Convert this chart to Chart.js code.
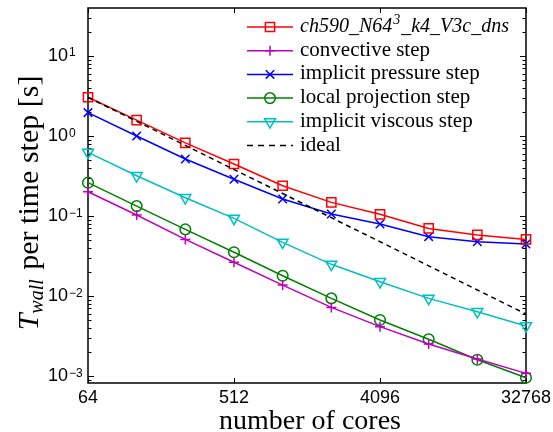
<!DOCTYPE html>
<html><head><meta charset="utf-8">
<script src="https://cdn.jsdelivr.net/npm/chart.js@4.4.1/dist/chart.umd.min.js"></script>
<style>html,body{margin:0;padding:0;background:#fff;} canvas{display:block;}</style>
</head><body>
<canvas id="c" width="553" height="432"></canvas>
<script>
// ---- data ----
const cores = [64,128,256,512,1024,2048,4096,8192,16384,32768];
const totalDns = [3.05,1.58,0.82,0.447,0.239,0.148,0.105,0.070,0.058,0.051];
const convective = [0.201,0.103,0.051,0.0264,0.0137,0.0072,0.00414,0.00251,0.00163,0.00108];
const implicitPressure = [1.96,1.0,0.516,0.288,0.163,0.106,0.0794,0.0552,0.0477,0.0447];
const localProjection = [0.261,0.133,0.068,0.0352,0.0179,0.00935,0.00501,0.00288,0.0016,0.00095];
const implicitViscous = [0.625,0.319,0.169,0.0935,0.0469,0.0249,0.0151,0.00935,0.00637,0.00422];
const ideal = [3.05,1.525,0.763,0.381,0.191,0.0953,0.0477,0.0238,0.0119,0.00596];
const xTickValues = [64,512,4096,32768];
const xTickLabels = ['64','512','4096','32768'];
const yMajorValues = [0.001,0.01,0.1,1,10];
const yTickBase = '10';
const yTickExponents = ['\u22123','\u22122','\u22121','0','1'];
const legendLabels = ['ch590_N64\u00b3_k4_V3c_dns','convective step','implicit pressure step','local projection step','implicit viscous step','ideal'];
const xTitle = 'number of cores';
const yTitleParts = ['T','wall',' per time step [s]'];

const pts = arr => cores.map((x,i)=>({x:x, y:arr[i]}));
const base = {borderWidth:1.5, pointBorderWidth:1.5, pointBackgroundColor:'rgba(0,0,0,0)', tension:0, clip:false, pointHoverRadius:0};
const datasets = [
  Object.assign({}, base, {label:legendLabels[0], data:pts(totalDns), borderColor:'#ff0000', pointBorderColor:'#ff0000', pointStyle:'rect', pointRadius:6.5}),
  Object.assign({}, base, {label:legendLabels[1], data:pts(convective), borderColor:'#bf00bf', pointBorderColor:'#bf00bf', pointStyle:'cross', pointRadius:5}),
  Object.assign({}, base, {label:legendLabels[2], data:pts(implicitPressure), borderColor:'#0000ff', pointBorderColor:'#0000ff', pointStyle:'crossRot', pointRadius:6}),
  Object.assign({}, base, {label:legendLabels[3], data:pts(localProjection), borderColor:'#008000', pointBorderColor:'#008000', pointStyle:'circle', pointRadius:5.3}),
  Object.assign({}, base, {label:legendLabels[4], data:pts(implicitViscous), borderColor:'#00bfbf', pointBorderColor:'#00bfbf', pointStyle:'triangle', pointRotation:180, pointRadius:6.3}),
  Object.assign({}, base, {label:legendLabels[5], data:pts(ideal), borderColor:'#000000', borderDash:[5,4], pointRadius:0, order:-1})
];

const SERIF = '"Liberation Serif", "Times New Roman", serif';
const SANS = '"Liberation Sans", Arial, sans-serif';

function drawRich(ctx, text, x, y, size, italic) {
  const f = (s) => (italic ? 'italic ' : '') + s + 'px ' + SERIF;
  let cx = x;
  for (const ch of text) {
    if (ch === '\u00b3') {
      ctx.font = f(Math.round(size*0.68));
      ctx.fillText('3', cx + 1, y - size*0.4);
      cx += ctx.measureText('3').width + 2;
    } else {
      ctx.font = f(size);
      ctx.fillText(ch, cx, y);
      cx += ctx.measureText(ch).width;
    }
  }
}

const decor = {
  id: 'decor',
  beforeDatasetsDraw(chart) {
    const {ctx, chartArea: a, scales: {x, y}} = chart;
    ctx.save();
    ctx.strokeStyle = '#000';
    ctx.lineWidth = 1.5;
    ctx.strokeRect(a.left, a.top, a.right - a.left, a.bottom - a.top);
    ctx.lineWidth = 1;
    ctx.beginPath();
    y.ticks.forEach(t => {
      const py = Math.round(y.getPixelForValue(t.value)) + 0.5;
      const len = t.major ? 6 : 3.5;
      ctx.moveTo(a.left, py); ctx.lineTo(a.left + len, py);
      ctx.moveTo(a.right, py); ctx.lineTo(a.right - len, py);
    });
    x.ticks.forEach(t => {
      const px = Math.round(x.getPixelForValue(t.value)) + 0.5;
      ctx.moveTo(px, a.bottom); ctx.lineTo(px, a.bottom - 5);
      ctx.moveTo(px, a.top); ctx.lineTo(px, a.top + 5);
    });
    ctx.stroke();
    ctx.restore();
  },
  afterDraw(chart) {
    const {ctx, chartArea: a, scales: {x, y}} = chart;
    ctx.save();
    ctx.fillStyle = '#000';
    // y tick labels 10^n
    yMajorValues.forEach((v, i) => {
      const py = y.getPixelForValue(v);
      ctx.font = '18px ' + SANS;
      ctx.textAlign = 'right'; ctx.textBaseline = 'middle';
      ctx.fillText(yTickBase, a.left - 20, py);
      ctx.font = '12px ' + SANS;
      ctx.textAlign = 'left'; ctx.textBaseline = 'alphabetic';
      ctx.fillText(yTickExponents[i], a.left - 19, py + 0.5);
    });
    // x title
    ctx.textAlign = 'center'; ctx.textBaseline = 'alphabetic';
    ctx.font = '28px ' + SERIF;
    ctx.fillText(xTitle, (a.left + a.right)/2 + 3, 429);
    // y title (rotated)
    ctx.save();
    ctx.translate(38, 203);
    ctx.rotate(-Math.PI/2);
    ctx.textAlign = 'left';
    const f1 = 'italic 30px ' + SERIF, f2 = 'italic 20px ' + SERIF, f3 = '30px ' + SERIF;
    ctx.font = f1; const w1 = ctx.measureText(yTitleParts[0]).width;
    ctx.font = f2; const w2 = ctx.measureText(yTitleParts[1]).width;
    ctx.font = f3; const w3 = ctx.measureText(yTitleParts[2]).width;
    let sx = -(w1 + w2 + w3 + 2)/2;
    ctx.font = f1; ctx.fillText(yTitleParts[0], sx, 0); sx += w1;
    ctx.font = f2; ctx.fillText(yTitleParts[1], sx, 5); sx += w2 + 2;
    ctx.font = f3; ctx.fillText(yTitleParts[2], sx, 0);
    ctx.restore();
    // legend
    const ly0 = 27, dy = 23.7;
    chart.data.datasets.forEach((ds, i) => {
      const yy = ly0 + i*dy;
      ctx.strokeStyle = ds.borderColor;
      ctx.lineWidth = 1.5;
      ctx.setLineDash(ds.borderDash ? [6,5] : []);
      ctx.beginPath(); ctx.moveTo(247, yy); ctx.lineTo(293, yy); ctx.stroke();
      ctx.setLineDash([]);
      if (ds.pointRadius > 0) {
        ctx.fillStyle = 'rgba(0,0,0,0)';
        Chart.helpers.drawPoint(ctx, {pointStyle: ds.pointStyle, radius: ds.pointRadius, rotation: ds.pointRotation || 0, borderWidth: 1.5}, 270, yy);
      }
      ctx.fillStyle = '#000';
      ctx.textAlign = 'left'; ctx.textBaseline = 'alphabetic';
      drawRich(ctx, legendLabels[i], 300, yy + 5, i === 0 ? 20 : 21, i === 0);
    });
    ctx.restore();
  }
};

new Chart(document.getElementById('c'), {
  type: 'line',
  data: { datasets: datasets },
  options: {
    responsive: false, animation: false, devicePixelRatio: 1,
    layout: { padding: { top: 8, right: 27, left: 0, bottom: 0 } },
    plugins: { legend: { display: false }, tooltip: { enabled: false } },
    events: [],
    scales: {
      x: {
        type: 'logarithmic', min: 64, max: 32768,
        afterBuildTicks: s => { s.ticks = xTickValues.map(v => ({value: v})); },
        afterFit: s => { s.height = 49; },
        grid: { display: false }, border: { display: false },
        ticks: {
          font: { family: SANS, size: 18 }, color: '#000', maxRotation: 0, minRotation: 0,
          autoSkip: false, padding: -4,
          callback: (v) => xTickLabels[xTickValues.indexOf(v)]
        }
      },
      y: {
        type: 'logarithmic', min: 8.18e-4, max: 39.8,
        afterBuildTicks: s => {
          const t = [];
          for (let e = -4; e <= 1; e++) for (let m = 1; m <= 9; m++) {
            const v = m * Math.pow(10, e);
            if (v >= s.min && v <= s.max) t.push({value: v, major: m === 1});
          }
          s.ticks = t;
        },
        afterFit: s => { s.width = 88; },
        grid: { display: false }, border: { display: false },
        ticks: { display: false }
      }
    }
  },
  plugins: [decor]
});
</script>
</body></html>
